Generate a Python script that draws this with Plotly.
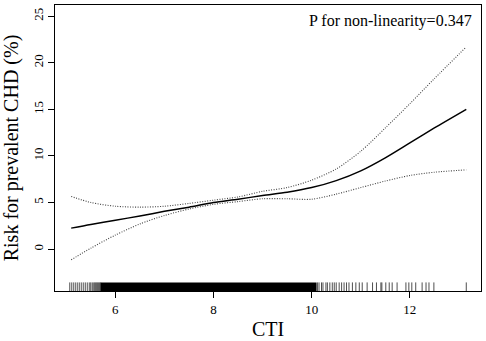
import plotly.graph_objects as go

# ---- data ----
cti = [5.1, 5.5, 6.0, 6.5, 7.0, 7.5, 8.0, 8.5, 9.0, 9.5, 10.0, 10.5, 11.0, 11.5, 12.0, 12.5, 13.15]
risk = [2.25, 2.65, 3.1, 3.55, 4.05, 4.5, 5.0, 5.35, 5.75, 6.1, 6.6, 7.35, 8.4, 9.8, 11.4, 13.0, 15.0]
upper = [5.65, 5.0, 4.6, 4.5, 4.6, 4.9, 5.25, 5.6, 6.2, 6.6, 7.4, 8.6, 10.5, 13.0, 15.6, 18.3, 21.7]
lower = [-1.15, 0.1, 1.5, 2.7, 3.6, 4.3, 4.8, 5.1, 5.4, 5.4, 5.35, 5.9, 6.6, 7.3, 7.9, 8.25, 8.5]

rug_sparse = [5.071, 5.112, 5.152, 5.193, 5.234, 5.274, 5.315, 5.356, 5.396, 5.437, 5.478,
              5.50, 5.53, 5.56, 5.58, 5.60, 5.62, 5.64, 5.66, 5.68, 5.70,
              10.12, 10.15, 10.20, 10.23, 10.29, 10.32, 10.37, 10.42, 10.46, 10.50, 10.56,
              10.61, 10.66, 10.71, 10.76, 10.83, 10.90, 10.97, 11.03, 11.13, 11.24, 11.32,
              11.41, 11.43, 11.51, 11.58, 11.64, 11.74, 11.92, 11.98, 12.04, 12.12, 12.25,
              12.33, 12.39, 12.49, 13.15]
rug_dense_range = [5.70, 10.10]

x_ticks = [6, 8, 10, 12]
y_ticks = [0, 5, 10, 15, 20, 25]
x_range = [4.77, 13.45]
y_range = [-4.5, 26.2]
annotation_text = "P for non-linearity=0.347"

FONT = "Liberation Serif"

fig = go.Figure()

# rug
rug_bottom = y_range[0]
rug_top = y_range[0] + 0.03 * (y_range[1] - y_range[0])
rx, ry = [], []
for v in rug_sparse:
    rx += [v, v, None]
    ry += [rug_bottom, rug_top, None]
fig.add_trace(go.Scatter(x=rx, y=ry, mode="lines", line=dict(color="#222", width=0.8),
                         hoverinfo="skip", showlegend=False))
d0, d1 = rug_dense_range
fig.add_trace(go.Scatter(x=[d0, d1, d1, d0, d0], y=[rug_bottom, rug_bottom, rug_top, rug_top, rug_bottom],
                         mode="lines", fill="toself", fillcolor="black", line=dict(color="black", width=0),
                         hoverinfo="skip", showlegend=False))

# CI lines
for ys in (upper, lower):
    fig.add_trace(go.Scatter(x=cti, y=ys, mode="lines",
                             line=dict(color="#444", width=1.1, dash="1px,1.5px", shape="spline", smoothing=0.8),
                             showlegend=False))
# main curve
fig.add_trace(go.Scatter(x=cti, y=risk, mode="lines",
                         line=dict(color="black", width=1.5, shape="spline", smoothing=0.8),
                         showlegend=False))

fig.add_annotation(text=annotation_text, xref="paper", yref="paper", x=1, y=1,
                   xanchor="right", yanchor="top", xshift=-7, yshift=-5, showarrow=False,
                   font=dict(family=FONT, size=16, color="black"))

axis_common = dict(showgrid=False, zeroline=False, showline=True, linecolor="black", linewidth=1,
                   mirror=True, ticks="outside", ticklen=6, tickcolor="black", tickwidth=1,
                   tickfont=dict(family=FONT, size=13, color="black"))

fig.update_xaxes(range=x_range, tickvals=x_ticks, ticktext=[str(t) for t in x_ticks],
                 title=dict(text="CTI", font=dict(family=FONT, size=20, color="black"), standoff=6),
                 **axis_common)
fig.update_yaxes(range=y_range, tickvals=y_ticks, ticktext=[str(t) for t in y_ticks], tickangle=-90,
                 title=dict(text="Risk for prevalent CHD (%)", font=dict(family=FONT, size=20, color="black"),
                            standoff=7),
                 **axis_common)

fig.update_layout(width=486, height=341, margin=dict(l=55, r=4, t=4, b=48),
                  paper_bgcolor="white", plot_bgcolor="white",
                  font=dict(family=FONT, color="black"))

fig.write_html("out.html", config={"displayModeBar": False},
               post_script="document.body.style.margin='0';document.body.style.overflow='hidden';")
